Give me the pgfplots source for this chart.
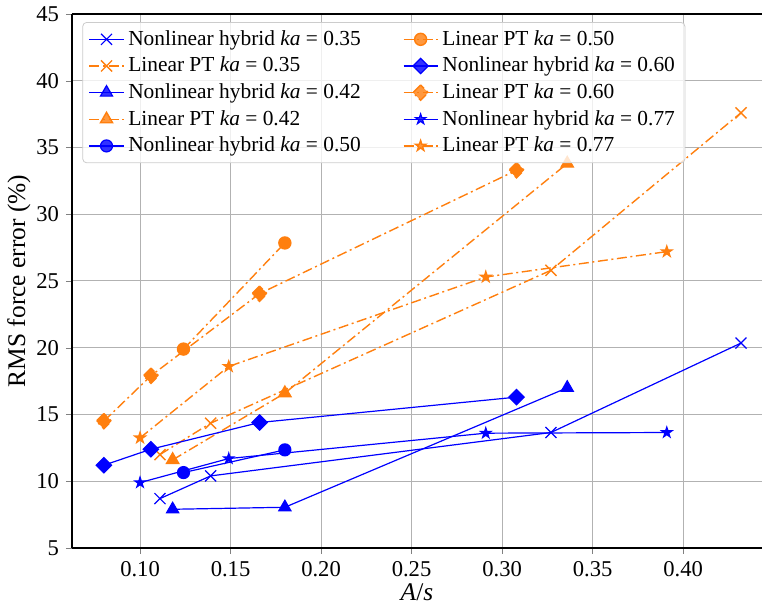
\documentclass[border=0pt]{standalone}
\usepackage{fontspec}
\setmainfont{Liberation Serif}
\usepackage{pgfplots}
\pgfplotsset{compat=1.18}
\definecolor{tabor}{HTML}{FF7F0E}

% filled five-point star, like matplotlib's '*'
\pgfdeclareplotmark{fstar}{%
  \pgfpathmoveto{\pgfpointpolar{90}{\pgfplotmarksize}}%
  \pgfpathlineto{\pgfpointpolar{126}{0.382\pgfplotmarksize}}%
  \pgfpathlineto{\pgfpointpolar{162}{\pgfplotmarksize}}%
  \pgfpathlineto{\pgfpointpolar{198}{0.382\pgfplotmarksize}}%
  \pgfpathlineto{\pgfpointpolar{234}{\pgfplotmarksize}}%
  \pgfpathlineto{\pgfpointpolar{270}{0.382\pgfplotmarksize}}%
  \pgfpathlineto{\pgfpointpolar{306}{\pgfplotmarksize}}%
  \pgfpathlineto{\pgfpointpolar{342}{0.382\pgfplotmarksize}}%
  \pgfpathlineto{\pgfpointpolar{18}{\pgfplotmarksize}}%
  \pgfpathlineto{\pgfpointpolar{54}{0.382\pgfplotmarksize}}%
  \pgfpathclose
  \pgfusepathqfillstroke
}

\pgfplotsset{
  nl/.style={blue, line width=0.6pt, mark options={solid, fill=blue}},
  pt/.style={tabor, line width=0.7pt, dash pattern=on 5pt off 1.8pt on 1pt off 1.8pt,
             mark options={solid, fill=tabor}},
}

\begin{document}
\begin{tikzpicture}
\begin{axis}[
    name=ax,
    scale only axis,
    width=345pt, height=267pt,
    xmin=0.0624, xmax=0.4436,
    ymin=5, ymax=45,
    axis x line*=box, axis y line*=left,
    axis line style={line width=0.6pt},
    tick pos=left, tick align=outside,
    major tick length=3pt,
    xtick={0.10,0.15,0.20,0.25,0.30,0.35,0.40},
    ytick={5,10,15,20,25,30,35,40,45},
    xticklabel style={/pgf/number format/.cd, fixed, fixed zerofill, precision=2},
    tick label style={font=\fontsize{11.3}{13}\selectfont},
    /pgf/number format/assume math mode=true,
    grid=major,
    major grid style={color=black!30, line width=0.5pt},
    xlabel={\textit{A}/\textit{s}},
    ylabel={RMS force error (\%)},
    every axis y label/.style={at={(axis description cs:0,0.5)}, xshift=-26.5pt,
      rotate=90, anchor=center, font=\fontsize{12.7}{14}\selectfont},
    every axis x label/.style={at={(axis description cs:0.5,0)}, yshift=-22pt,
      anchor=center, font=\fontsize{12.7}{14}\selectfont},
    legend columns=5,
    transpose legend,
    legend style={at={(0.015,0.985)}, anchor=north west,
      font=\fontsize{10.7}{12}\selectfont,
      draw=black!20, rounded corners=2pt, fill=white, fill opacity=0.8, text opacity=1,
      inner xsep=3pt, inner ysep=2pt,
      /tikz/every even column/.append style={column sep=19pt},
      row sep=0.4pt},
    legend cell align=left,
]
\addplot[nl, mark=x, mark size=3.9pt] coordinates {
  (0.111,8.7) (0.139,10.4) (0.327,13.65) (0.432,20.35)};
\addlegendentry{Nonlinear hybrid \textit{ka} = 0.35}
\addplot[pt, mark=x, mark size=3.9pt] coordinates {
  (0.111,12.0) (0.139,14.35) (0.327,25.8) (0.432,37.6)};
\addlegendentry{Linear PT \textit{ka} = 0.35}
\addplot[nl, mark=triangle*, mark size=3.5pt] coordinates {
  (0.118,7.9) (0.180,8.05) (0.336,17.0)};
\addlegendentry{Nonlinear hybrid \textit{ka} = 0.42}
\addplot[pt, mark=triangle*, mark size=3.5pt] coordinates {
  (0.118,11.6) (0.180,16.6) (0.336,33.8)};
\addlegendentry{Linear PT \textit{ka} = 0.42}
\addplot[nl, mark=*, mark size=3pt] coordinates {
  (0.124,10.65) (0.180,12.35)};
\addlegendentry{Nonlinear hybrid \textit{ka} = 0.50}
\addplot[pt, mark=*, mark size=3pt] coordinates {
  (0.124,19.9) (0.180,27.85)};
\addlegendentry{Linear PT \textit{ka} = 0.50}
\addplot[nl, mark=square*, mark size=2.7pt, mark options={rotate=45}] coordinates {
  (0.080,11.2) (0.106,12.4) (0.166,14.4) (0.308,16.3)};
\addlegendentry{Nonlinear hybrid \textit{ka} = 0.60}
\addplot[pt, mark=square*, mark size=2.7pt, mark options={rotate=45}] coordinates {
  (0.080,14.5) (0.106,17.9) (0.166,24.05) (0.308,33.3)};
\addlegendentry{Linear PT \textit{ka} = 0.60}
\addplot[nl, mark=fstar, mark size=2.7pt] coordinates {
  (0.100,9.9) (0.149,11.7) (0.291,13.6) (0.391,13.65)};
\addlegendentry{Nonlinear hybrid \textit{ka} = 0.77}
\addplot[pt, mark=fstar, mark size=2.7pt] coordinates {
  (0.100,13.25) (0.149,18.6) (0.291,25.3) (0.391,27.2)};
\addlegendentry{Linear PT \textit{ka} = 0.77}
\end{axis}
\pgfresetboundingbox
\path ([shift={(-36pt,-28pt)}]ax.south west) rectangle ([yshift=7pt]ax.north east);
\end{tikzpicture}
\end{document}
